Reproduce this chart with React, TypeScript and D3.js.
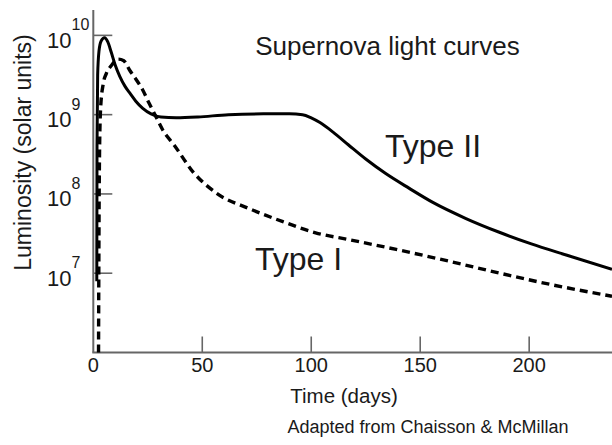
import React from "react";
import * as d3 from "d3";

const W = 612;
const H = 445;

// Type II light curve: [day, log10(L / Lsun)]
const typeIIDays = [1.6, 1.7, 2.0, 2.6, 3.6, 5.2, 6.6, 8.2, 10.0, 12.2, 14.5, 16.8, 19.5, 22.7, 26.5, 31, 38, 48, 62, 78, 90, 96, 100, 104, 110, 117, 125, 134, 145, 156, 171, 186, 201, 217, 238];
const typeIILog = [6.9, 8.6, 9.5, 9.8, 9.93, 9.97, 9.92, 9.79, 9.63, 9.48, 9.36, 9.27, 9.17, 9.08, 9.01, 8.97, 8.96, 8.97, 9.0, 9.01, 9.01, 9.0, 8.96, 8.9, 8.78, 8.62, 8.44, 8.26, 8.07, 7.89, 7.69, 7.52, 7.37, 7.23, 7.05];

// Type I light curve
const typeIDays = [2.4, 2.6, 2.9, 3.4, 4.5, 6.0, 8.3, 11.5, 14.0, 16.7, 19.5, 22.5, 25.5, 29, 32, 37, 46, 56.5, 72, 87, 102, 118, 139, 163.5, 186.6, 209.5, 238];
const typeILog = [6.0, 7.5, 8.6, 9.1, 9.38, 9.52, 9.62, 9.7, 9.68, 9.56, 9.45, 9.32, 9.15, 8.96, 8.8, 8.62, 8.27, 8.01, 7.81, 7.65, 7.51, 7.42, 7.3, 7.15, 7.0, 6.86, 6.71];

const xTicks = [0, 50, 100, 150, 200];
const yTickExp = [7, 8, 9, 10];

const title = "Supernova light curves";
const xTitle = "Time (days)";
const yTitle = "Luminosity (solar units)";
const credit = "Adapted from Chaisson & McMillan";
const labelII = "Type II";
const labelI = "Type I";

export default function App() {
  const x = d3.scaleLinear().domain([0, 238]).range([93.3, 612]);
  const y = d3.scaleLog().domain([1e6, Math.pow(10, 10.32)]).range([352.5, 10]);

  const line = d3
    .line<[number, number]>()
    .x((d) => x(d[0]))
    .y((d) => y(Math.pow(10, d[1])))
    .curve(d3.curveMonotoneX);

  const ptsII: [number, number][] = typeIIDays.map((d, i) => [d, typeIILog[i]]);
  const ptsI: [number, number][] = typeIDays.map((d, i) => [d, typeILog[i]]);

  const font = "'Liberation Sans', Arial, Helvetica, sans-serif";
  const axisColor = "#666";
  const textColor = "#1a1a1a";
  const x0 = x(0);
  const yBottom = y(1e6);

  return (
    <svg
      width={W}
      height={H}
      style={{ position: "absolute", left: 0, top: 0, background: "#fff" }}
      fontFamily={font}
    >
      <defs>
        <clipPath id="plot">
          <rect x={x0} y={0} width={W - x0} height={yBottom + 1} />
        </clipPath>
      </defs>
      <rect x={0} y={0} width={W} height={H} fill="#fff" />

      {/* axes */}
      <line x1={x0} x2={x0} y1={y.range()[1]} y2={yBottom} stroke={axisColor} strokeWidth={2} />
      <line x1={x0 - 1} x2={W} y1={yBottom} y2={yBottom} stroke={axisColor} strokeWidth={2.2} />

      {/* y ticks */}
      {yTickExp.map((e) => {
        const ty = y(Math.pow(10, e));
        return (
          <g key={e}>
            <line x1={x0} x2={x0 + 19} y1={ty} y2={ty} stroke={axisColor} strokeWidth={1.6} />
            <text x={71.5} y={ty + 12.5} textAnchor="end" fontSize={22} fill={textColor}>
              10
            </text>
            <text x={71.5} y={ty - 5} textAnchor="start" fontSize={16} fill={textColor}>
              {e}
            </text>
          </g>
        );
      })}

      {/* x ticks */}
      {xTicks.map((t) => (
        <g key={t}>
          {t !== 0 && (
            <line x1={x(t)} x2={x(t)} y1={yBottom} y2={yBottom - 16} stroke={axisColor} strokeWidth={1.6} />
          )}
          <text x={x(t)} y={372} textAnchor="middle" fontSize={20} fill={textColor}>
            {t}
          </text>
        </g>
      ))}

      {/* curves */}
      <g clipPath="url(#plot)">
        <path d={line(ptsI) || ""} fill="none" stroke="#000" strokeWidth={3.4} strokeDasharray="8 5" />
        <path d={line(ptsII) || ""} fill="none" stroke="#000" strokeWidth={3} strokeLinejoin="round" />
      </g>

      {/* texts */}
      <text x={387.5} y={55} textAnchor="middle" fontSize={26} fill={textColor}>
        {title}
      </text>
      <text x={385} y={157} fontSize={32} fill={textColor}>
        {labelII}
      </text>
      <text x={255} y={270} fontSize={32} fill={textColor}>
        {labelI}
      </text>
      <text x={344} y={403} textAnchor="middle" fontSize={20.5} fill={textColor}>
        {xTitle}
      </text>
      <text x={428} y={433} textAnchor="middle" fontSize={18} fill={textColor}>
        {credit}
      </text>
      <text
        transform={`translate(31,152.5) rotate(-90)`}
        textAnchor="middle"
        fontSize={23}
        fill={textColor}
      >
        {yTitle}
      </text>
    </svg>
  );
}
